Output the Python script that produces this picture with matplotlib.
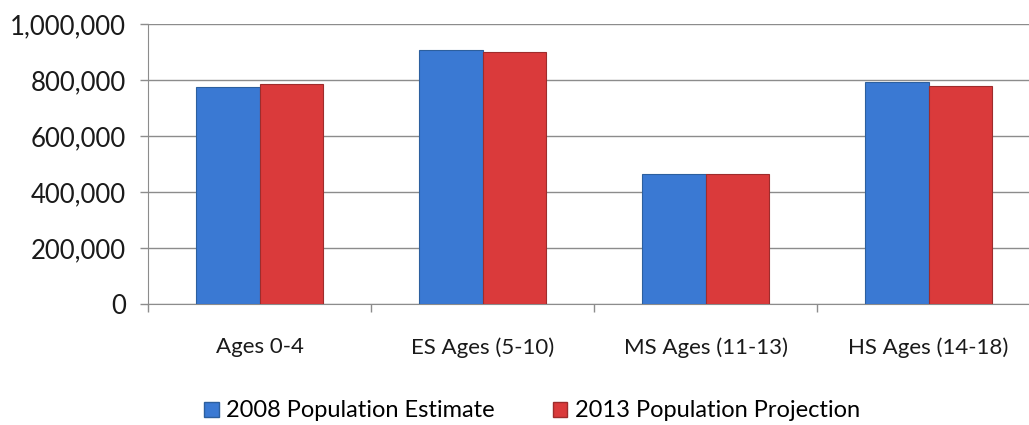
import numpy as np
import matplotlib.pyplot as plt
from matplotlib.ticker import FuncFormatter, MultipleLocator
from matplotlib.patches import Patch

# Datos
categorias = ['Ages 0-4', 'ES Ages (5-10)', 'MS Ages (11-13)', 'HS Ages (14-18)']
estimado_2008 = [776000, 907000, 464000, 792000]
proyeccion_2013 = [787000, 899000, 464000, 779000]
series = ['2008 Population Estimate', '2013 Population Projection']

plt.rcParams['font.family'] = ['Lato', 'DejaVu Sans']

fig = plt.figure(figsize=(10.29, 4.25), dpi=100)
ax = fig.add_axes([148 / 1029, 1 - 304 / 425, 892 / 1029, 280 / 425])

x = np.arange(len(categorias))
ancho = 0.283

azul = '#3a79d3'
rojo = '#da3a3b'

ax.bar(x - ancho / 2, estimado_2008, ancho, color=azul, edgecolor='#2c5f9e',
       linewidth=0.8, zorder=3)
ax.bar(x + ancho / 2, proyeccion_2013, ancho, color=rojo, edgecolor='#9e2c2c',
       linewidth=0.8, zorder=3)

ax.set_xlim(-0.5, len(categorias) - 0.5)
ax.set_ylim(0, 1000000)
ax.yaxis.set_major_locator(MultipleLocator(200000))
ax.yaxis.set_major_formatter(FuncFormatter(lambda v, p: f'{int(v):,}'))
ax.grid(axis='y', color='#8c8c8c', linewidth=1, zorder=0)

# Eje x con marcas entre categorías
ax.set_xticks(x)
ax.set_xticklabels(categorias, fontsize=16, color='#1a1a1a')
ax.tick_params(axis='x', length=0, pad=24)
ax.set_xticks(np.arange(len(categorias) + 1) - 0.5, minor=True)
ax.tick_params(axis='x', which='minor', length=6, color='#8c8c8c', width=1)
ax.tick_params(axis='y', length=6, color='#8c8c8c', width=1, labelsize=18.5,
               labelcolor='#1a1a1a', pad=10, direction='out')

for lado in ['top', 'right']:
    ax.spines[lado].set_visible(False)
ax.spines['left'].set_color('#8c8c8c')
ax.spines['bottom'].set_color('#8c8c8c')

# Leyenda
handles = [Patch(facecolor=azul, edgecolor='#2c5f9e'),
           Patch(facecolor=rojo, edgecolor='#9e2c2c')]
fig.legend(handles, series, loc='center', bbox_to_anchor=(0.517, 0.033),
           ncol=2, frameon=False, fontsize=17, handlelength=0.6,
           handleheight=0.6, handletextpad=0.3, columnspacing=2.5)

fig.savefig('out.png', dpi=100)
